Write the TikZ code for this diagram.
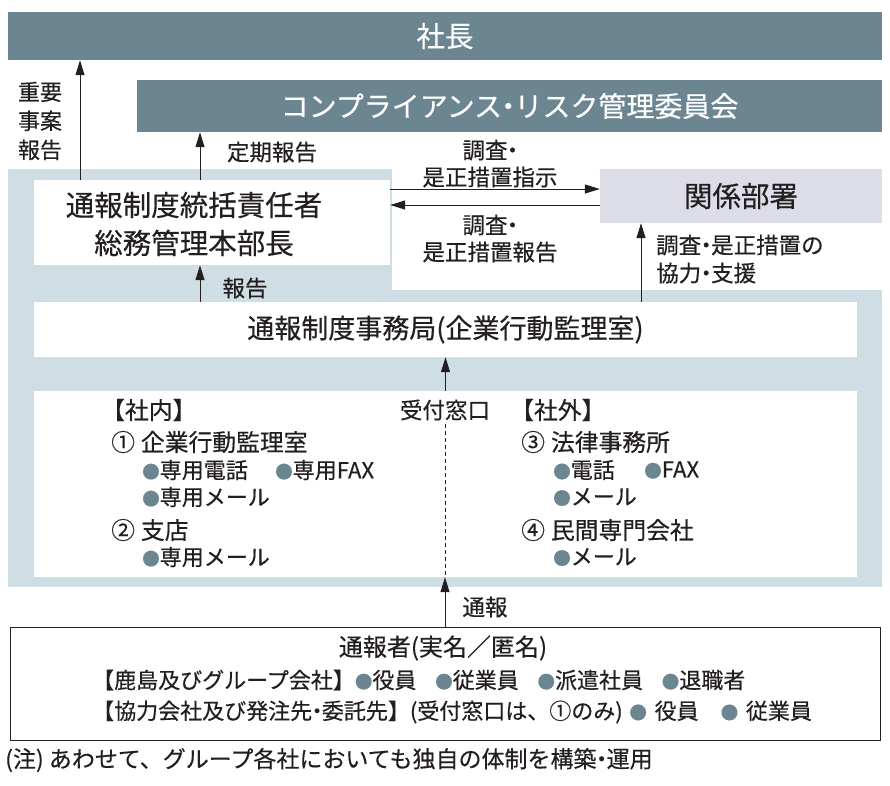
\documentclass[tikz,border=0pt]{standalone}
\usepackage{fontspec}
\setmainfont[FakeBold=0.4]{Noto Sans CJK JP}
\usetikzlibrary{arrows.meta,calc}
\definecolor{slate}{HTML}{6B8591}
\definecolor{paleblue}{HTML}{CFDEE5}
\definecolor{lav}{HTML}{DDDDE7}
\definecolor{ink}{HTML}{231F20}
\newcommand\bul{\textcolor{slate}{\scalebox{0.8}{●}}}
\newcommand\nd{\hspace{-0.28em}・\hspace{-0.28em}}
\begin{document}
\begin{tikzpicture}[x=1pt,y=-1pt,
  bar/.style={fill=slate,text=white,inner sep=0pt,font=\fontsize{28.5}{32}\selectfont},
  wbox/.style={fill=white,inner sep=0pt},
  head/.style={text=ink,inner sep=0pt,font=\fontsize{28.5}{38}\selectfont,align=center},
  lbl/.style={text=ink,inner sep=0pt,font=\fontsize{22.5}{28}\selectfont,align=center},
  item/.style={text=ink,inner sep=0pt,anchor=west,font=\fontsize{22}{26}\selectfont},
  itemh/.style={item,font=\fontsize{23.8}{26}\selectfont},
  arr/.style={draw=ink,line width=1pt,-{Triangle[length=15pt,width=9pt]}}]
\useasboundingbox (0,0) rectangle (890,785);
% background zones
\fill[paleblue] (8,169) rectangle (882,587);
\fill[white] (392,169) rectangle (882,290);
% boxes
\node[bar,minimum width=874pt,minimum height=48pt] (shacho) at (445,36) {社長};
\node[bar,minimum width=745pt,minimum height=52pt,font=\fontsize{28}{32}\selectfont] (comp) at (509.5,106) {コンプライアンス\nd リスク管理委員会};
\node[wbox,minimum width=356pt,minimum height=85pt] (tokatsu) at (212,222.5) {};
\node[head] (tokatsuT) at (194,224) {通報制度統括責任者\\総務管理本部長};
\node[fill=lav,inner sep=0pt,minimum width=282pt,minimum height=54pt,text=ink,font=\fontsize{28.5}{32}\selectfont] (kankei) at (741,196) {関係部署};
\node[wbox,minimum width=823pt,minimum height=55pt,text=ink,font=\fontsize{27}{30}\selectfont] (jimu) at (445.5,329.5) {通報制度事務局(企業行動監理室)};
\node[wbox,minimum width=823pt,minimum height=186pt] (lower) at (445.5,484) {};
\node[draw=ink,line width=1pt,fill=white,inner sep=0pt,minimum width=870pt,minimum height=113pt] (tsuho) at (445,683.5) {};
% arrows
\draw[arr] ([xshift=-132pt]tokatsu.north) -- ([xshift=-132pt]tokatsu.north |- shacho.south);
\draw[arr] ([xshift=-12pt]tokatsu.north) -- ([xshift=-12pt]tokatsu.north |- comp.south);
\draw[arr] ([yshift=7pt]kankei.west -| tokatsu.east) -- ([yshift=7pt]kankei.west);
\draw[arr] ([yshift=-9pt]kankei.west) -- ([yshift=-9pt]kankei.west -| tokatsu.east);
\draw[arr] ([xshift=-12pt]tokatsu.south |- jimu.north) -- ([xshift=-12pt]tokatsu.south);
\draw[arr] ([xshift=-100pt]kankei.south |- jimu.north) -- ([xshift=-100pt]kankei.south);
\draw[arr] (lower.north -| jimu.south) -- (jimu.south);
\draw[arr] (tsuho.north) -- (tsuho.north |- lower.south);
\coordinate (dashtop) at (445,424);
\draw[ink,line width=0.6pt,dash pattern=on 4pt off 3pt] (dashtop) -- (dashtop |- lower.south);
% arrow labels
\node[lbl,font=\fontsize{22}{29}\selectfont] (l1) at (40,121) {重要\\事案\\報告};
\node[lbl] (l2) at (272,152) {定期報告};
\node[lbl,font=\fontsize{22.5}{27}\selectfont] (l3) at (490,163.5) {調査\nd\phantom{}\\是正措置指示};
\node[lbl,font=\fontsize{22.5}{27}\selectfont] (l4) at (490,238.5) {調査\nd\phantom{}\\是正措置報告};
\node[lbl,font=\fontsize{22.5}{28}\selectfont,align=left,anchor=west] (l5) at (656,259) {調査\nd 是正措置の\\協力\nd 支援};
\node[lbl] (l6) at (245,288) {報告};
\node[lbl] (l7) at (485,607) {通報};
% lower box contents
\node[lbl] (uketsuke) at (445,410) {受付窓口};
\node[itemh] (shanai) at (101,410) {【社内】};
\node[itemh] (n1) at (111,442) {①\hspace{0.25em}企業行動監理室};
\node[item] (n1a) at (142,470) {\bul 専用電話};
\node[item] (n1b) at (275,470) {\bul 専用FAX};
\node[item] (n1c) at (142,497) {\bul 専用メール};
\node[itemh] (n2) at (111,530) {②\hspace{0.25em}支店};
\node[item] (n2a) at (142,557) {\bul 専用メール};
\node[itemh] (shagai) at (510,410) {【社外】};
\node[itemh] (n3) at (521,442) {③\hspace{0.25em}法律事務所};
\node[item] (n3a) at (553,470) {\bul 電話};
\node[item] (n3b) at (644,470) {\bul FAX};
\node[item] (n3c) at (553,497) {\bul メール};
\node[itemh] (n4) at (521,530) {④\hspace{0.25em}民間専門会社};
\node[item] (n4a) at (553,557) {\bul メール};
% reporter box contents
\node[lbl,font=\fontsize{24}{28}\selectfont] (r1) at (443,648) {通報者(実名／匿名)};
\node[item] (r2) at (92,680) {【鹿島及びグループ会社】\bul 役員\hspace{0.85em}\bul 従業員\hspace{0.85em}\bul 派遣社員\hspace{0.85em}\bul 退職者};
\node[item] (r3) at (92,712) {【協力会社及び発注先\nd 委託先】(受付窓口は、①のみ)\hspace{0.3em}\bul\hspace{0.35em}役員\hspace{1em}\bul\hspace{0.35em}従業員};
% footnote
\node[item,font=\fontsize{23}{26}\selectfont] (note) at (5,760) {(注) あわせて、グループ各社においても独自の体制を構築\nd 運用};
\end{tikzpicture}
\end{document}
